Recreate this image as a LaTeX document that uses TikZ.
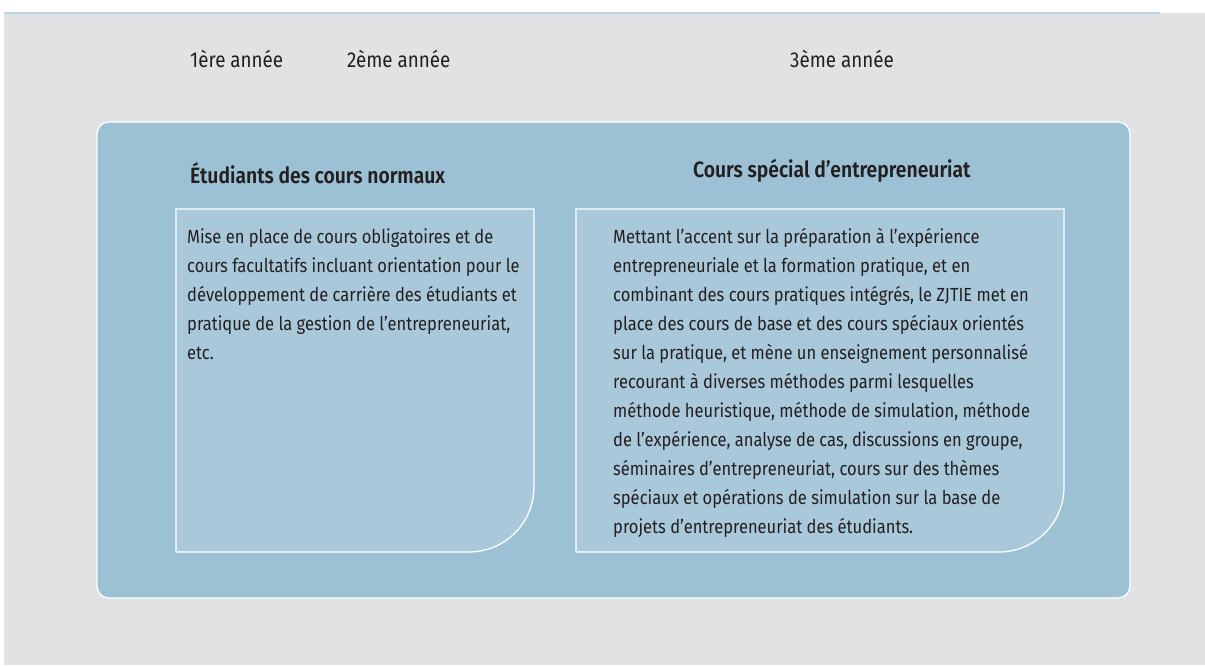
\documentclass[tikz,border=0pt]{standalone}
\usepackage{fontspec}
\newfontfamily\cond[FakeStretch=0.87]{Fira Sans}
\newfontfamily\condb[FakeStretch=0.87]{Fira Sans SemiBold}
\definecolor{bggray}{HTML}{E1E2E4}
\definecolor{outerblue}{HTML}{9CC1D5}
\definecolor{innerblue}{HTML}{A9C9DB}
\definecolor{topline}{HTML}{BCD6E4}
\definecolor{txt}{HTML}{231F20}
\tikzset{
  yearlbl/.style={anchor=base west, inner sep=0pt, text=txt, font=\cond\fontsize{21.6}{25}\selectfont},
  headlbl/.style={anchor=base west, inner sep=0pt, text=txt, font=\condb\fontsize{22.2}{26}\selectfont},
  bodytxt/.style={anchor=north west, inner sep=0pt, text=txt, align=left, font=\cond\fontsize{19}{29}\selectfont},
  boxline/.style={draw=white, line width=1.3pt}
}
\begin{document}
\begin{tikzpicture}[x=1pt,y=-1pt]
\useasboundingbox (0,0) rectangle (1205,665);
\fill[white] (0,0) rectangle (1205,665);
\fill[bggray] (4,13) rectangle (1205,665);
\draw[topline, line width=2pt] (4,12.5) -- (1160,12.5);
% outer box
\path[boxline, fill=outerblue, rounded corners=12pt] (97,122) rectangle (1130,598);
% inner boxes
\path[boxline, fill=innerblue] (176,209) -- (534,209) [rounded corners=65pt] -- (534,552) [sharp corners] -- (176,552) -- cycle;
\path[boxline, fill=innerblue] (576,209) -- (1064,209) [rounded corners=65pt] -- (1064,552) [sharp corners] -- (576,552) -- cycle;
% year labels
\node[yearlbl] (y1) at (190,67) {1ère année};
\node[yearlbl] (y2) at (347,67) {2ème année};
\node[yearlbl] (y3) at (790,67) {3ème année};
% headings
\node[headlbl] (h1) at (190,183) {Étudiants des cours normaux};
\node[headlbl] (h2) at (693,177) {Cours spécial d’entrepreneuriat};
% body
\node[bodytxt] (t1) at (187,228.5) {Mise en place de cours obligatoires et de\\
cours facultatifs incluant orientation pour le\\
développement de carrière des étudiants et\\
pratique de la gestion de l’entrepreneuriat,\\
etc.};
\node[bodytxt] (t2) at (613,228.5) {Mettant l’accent sur la préparation à l’expérience\\
entrepreneuriale et la formation pratique, et en\\
combinant des cours pratiques intégrés, le ZJTIE met en\\
place des cours de base et des cours spéciaux orientés\\
sur la pratique, et mène un enseignement personnalisé\\
recourant à diverses méthodes parmi lesquelles\\
méthode heuristique, méthode de simulation, méthode\\
de l’expérience, analyse de cas, discussions en groupe,\\
séminaires d’entrepreneuriat, cours sur des thèmes\\
spéciaux et opérations de simulation sur la base de\\
projets d’entrepreneuriat des étudiants.};
\end{tikzpicture}
\end{document}
